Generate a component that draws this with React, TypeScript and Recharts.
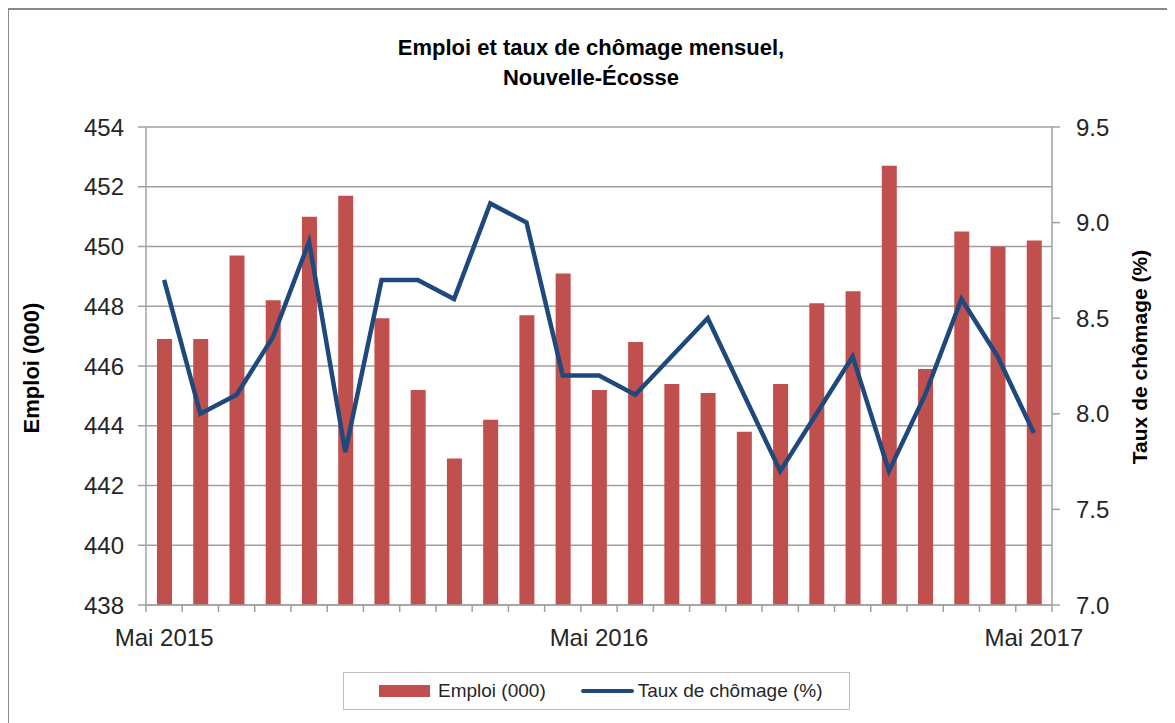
import { Bar, CartesianGrid, ComposedChart, Line, XAxis, YAxis } from "recharts";

const months = [
  "Mai 2015", "Juin 2015", "Juil 2015", "Août 2015", "Sept 2015", "Oct 2015",
  "Nov 2015", "Déc 2015", "Janv 2016", "Févr 2016", "Mars 2016", "Avr 2016",
  "Mai 2016", "Juin 2016", "Juil 2016", "Août 2016", "Sept 2016", "Oct 2016",
  "Nov 2016", "Déc 2016", "Janv 2017", "Févr 2017", "Mars 2017", "Avr 2017",
  "Mai 2017",
];

const emploi = [
  446.9, 446.9, 449.7, 448.2, 451.0, 451.7, 447.6, 445.2, 442.9, 444.2, 447.7, 449.1,
  445.2, 446.8, 445.4, 445.1, 443.8, 445.4, 448.1, 448.5, 452.7, 445.9, 450.5, 450.0,
  450.2,
];

const chomage = [
  8.7, 8.0, 8.1, 8.4, 8.9, 7.8, 8.7, 8.7, 8.6, 9.1, 9.0, 8.2,
  8.2, 8.1, 8.3, 8.5, 8.1, 7.7, 8.0, 8.3, 7.7, 8.1, 8.6, 8.3,
  7.9,
];

const shownLabels = ["Mai 2015", "Mai 2016", "Mai 2017"];
const leftTicks = [438, 440, 442, 444, 446, 448, 450, 452, 454];
const rightTicks = [7.0, 7.5, 8.0, 8.5, 9.0, 9.5];

const data = months.map((m, i) => ({ mois: m, emploi: emploi[i], chomage: chomage[i] }));

const W = 1167;
const H = 715;
const PLOT_LEFT = 138;
const PLOT_RIGHT = 1044;
const PLOT_TOP = 119;
const PLOT_BOTTOM = 597;
const STEP = (PLOT_RIGHT - PLOT_LEFT) / months.length;

const FONT = "'Liberation Sans', Arial, sans-serif";
const AXIS_GRAY = "#a0a0a0";
const RED = "#c0504d";
const BLUE = "#1f497d";

function MonthTick(props: any) {
  const { x, payload, index } = props;
  const label = shownLabels.includes(payload.value) ? payload.value.replace("Mai", "Mai") : "";
  return (
    <g>
      <line x1={x - STEP / 2} x2={x - STEP / 2} y1={PLOT_BOTTOM} y2={PLOT_BOTTOM + 7} stroke={AXIS_GRAY} strokeWidth={1.5} />
      {index === months.length - 1 && (
        <line x1={x + STEP / 2} x2={x + STEP / 2} y1={PLOT_BOTTOM} y2={PLOT_BOTTOM + 7} stroke={AXIS_GRAY} strokeWidth={1.5} />
      )}
      {label && (
        <text x={x} y={PLOT_BOTTOM + 33} dy="0.35em" textAnchor="middle" fontSize={24} fill="#262626" fontFamily={FONT}>
          {label}
        </text>
      )}
    </g>
  );
}

export default function App() {
  return (
    <div style={{ position: "relative", width: W, height: H, fontFamily: FONT, color: "#000" }}>
      <div
        style={{
          position: "absolute",
          left: -1,
          top: 0,
          width: 1180,
          height: 740,
          border: "2px solid #8a8a8a",
          boxSizing: "border-box",
        }}
      />
      <div
        style={{
          position: "absolute",
          left: 0,
          top: 25,
          width: W - 1,
          textAlign: "center",
          fontWeight: "bold",
          fontSize: 22,
          lineHeight: "30px",
        }}
      >
        Emploi et taux de chômage mensuel,
        <br />
        Nouvelle-Écosse
      </div>
      <div style={{ position: "absolute", left: 0, top: 0 }}>
        <ComposedChart
          width={W}
          height={H}
          data={data}
          margin={{ top: PLOT_TOP, left: PLOT_LEFT - 60, right: W - PLOT_RIGHT - 60, bottom: H - PLOT_BOTTOM - 40 }}
          barCategoryGap={0}
        >
          <CartesianGrid yAxisId="left" vertical={false} stroke={AXIS_GRAY} strokeWidth={1.5} />
          <XAxis
            dataKey="mois"
            interval={0}
            height={40}
            tickLine={false}
            axisLine={{ stroke: AXIS_GRAY, strokeWidth: 1.5 }}
            tick={<MonthTick />}
          />
          <YAxis
            yAxisId="left"
            width={60}
            domain={[438, 454]}
            ticks={leftTicks}
            interval={0}
            tickSize={8}
            tickMargin={14}
            axisLine={{ stroke: AXIS_GRAY, strokeWidth: 1.5 }}
            tickLine={{ stroke: AXIS_GRAY, strokeWidth: 1.5 }}
            tick={{ fontSize: 24, fill: "#262626", fontFamily: FONT }}
          />
          <YAxis
            yAxisId="right"
            orientation="right"
            width={60}
            domain={[7, 9.5]}
            ticks={rightTicks}
            interval={0}
            tickSize={8}
            tickMargin={16}
            tickFormatter={(v: number) => v.toFixed(1)}
            axisLine={{ stroke: AXIS_GRAY, strokeWidth: 1.5 }}
            tickLine={{ stroke: AXIS_GRAY, strokeWidth: 1.5 }}
            tick={{ fontSize: 24, fill: "#262626", fontFamily: FONT }}
          />
          <Bar yAxisId="left" dataKey="emploi" fill={RED} barSize={15} isAnimationActive={false} />
          <Line
            yAxisId="right"
            dataKey="chomage"
            type="linear"
            stroke={BLUE}
            strokeWidth={4.5}
            dot={false}
            activeDot={false}
            isAnimationActive={false}
          />
        </ComposedChart>
      </div>
      <div
        style={{
          position: "absolute",
          left: 24,
          top: (PLOT_TOP + PLOT_BOTTOM) / 2 + 2,
          transform: "translate(-50%, -50%) rotate(-90deg)",
          fontWeight: "bold",
          fontSize: 22,
          whiteSpace: "nowrap",
        }}
      >
        Emploi (000)
      </div>
      <div
        style={{
          position: "absolute",
          left: 1132,
          top: (PLOT_TOP + PLOT_BOTTOM) / 2 - 9,
          transform: "translate(-50%, -50%) rotate(-90deg)",
          fontWeight: "bold",
          fontSize: 21,
          whiteSpace: "nowrap",
        }}
      >
        Taux de chômage (%)
      </div>
      <div
        style={{
          position: "absolute",
          left: 335,
          top: 664,
          width: 507,
          height: 38,
          border: "1px solid #bfbfbf",
          boxSizing: "border-box",
          display: "flex",
          alignItems: "center",
          fontSize: 19,
          color: "#262626",
        }}
      >
        <span style={{ display: "inline-block", width: 51, height: 12, background: RED, marginLeft: 35, marginRight: 8 }} />
        <span>Emploi (000)</span>
        <span style={{ display: "inline-block", width: 53, height: 4, background: BLUE, borderRadius: 2, marginLeft: 35, marginRight: 4 }} />
        <span>Taux de chômage (%)</span>
      </div>
    </div>
  );
}
